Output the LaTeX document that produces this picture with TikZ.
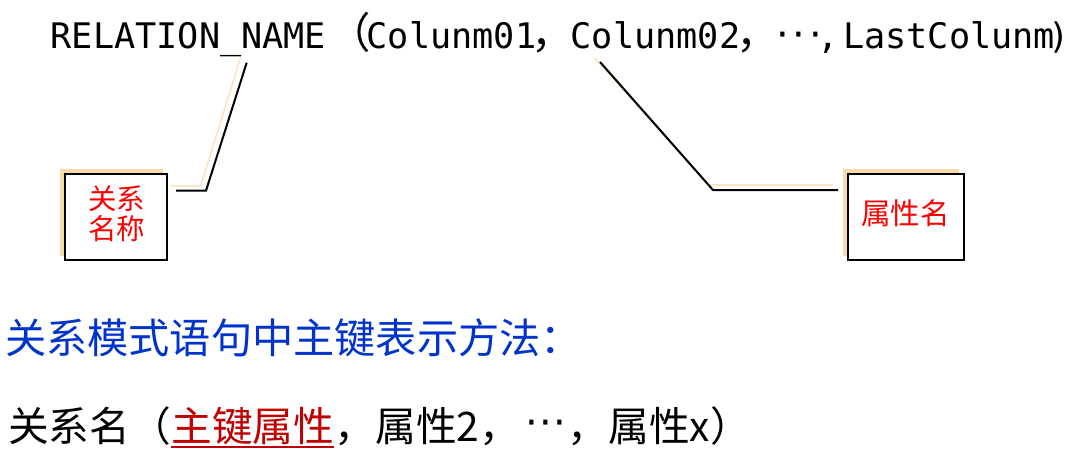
\documentclass[tikz,border=0pt]{standalone}
\usepackage{fontspec}
\newfontfamily\cjk{Noto Sans CJK SC}
\newfontfamily\mono{DejaVu Sans Mono}
\newfontfamily\dejavu{DejaVu Sans}
\definecolor{shadowtan}{HTML}{F9DBA9}
\definecolor{shadowlight}{HTML}{FBE3C4}
\definecolor{titleblue}{HTML}{0033CC}
\definecolor{keyred}{HTML}{C00000}
\begin{document}
\begin{tikzpicture}[x=1pt,y=-1pt,
  toptext/.style={font=\mono\fontsize{35.2}{40}\selectfont, inner sep=0, anchor=base west},
  toppunct/.style={font=\cjk\fontsize{42.4}{48}\selectfont, inner sep=0, anchor=base west},
  topdots/.style={font=\dejavu\fontsize{40}{48}\selectfont, inner sep=0, anchor=base west},
  labelbox/.style={draw=black, line width=1.3, fill=white, inner sep=0},
  shadowbox/.style={fill=shadowtan, inner sep=0},
  conn/.style={draw=black, line width=2},
  connshadow/.style={draw=shadowlight, line width=1.6},
  boxtext/.style={font=\cjk\fontsize{28.5}{29.5}\selectfont, text=red, align=center, inner sep=0},
  bigtext/.style={font=\cjk\fontsize{40.7}{48}\selectfont, inner sep=0, anchor=base west}
]
\useasboundingbox (0,0) rectangle (1069,474);
% top line
\node[toptext] (rn) at (50.5,48.5) {RELATION\_NAME};
\node[toppunct] (lp) at (328.5,48.5) {（};
\node[toptext] (c1) at (366.5,48.5) {Colunm01};
\node[toppunct] (cm1) at (531,48.5) {，};
\node[toptext] (c2) at (570.5,48.5) {Colunm02};
\node[toppunct] (cm2) at (736,48.5) {，};
\node[topdots] (el) at (776,48.5) {·\kern3.8pt·\kern3.8pt·};
\node[toptext] (cm3) at (817,48.5) {,};
\node[toptext] (lc) at (843,48.5) {LastColunm};
\node[toptext] (rp) at (1048,48.5) {)};
% boxes
\node[shadowbox, minimum width=102.7, minimum height=87] (s1) at (111.35,212.5) {};
\node[labelbox, minimum width=102, minimum height=86] (b1) at (116,217) {};
\node[boxtext] (t1) at (116.5,213.5) {关系\\名称};
\node[shadowbox, minimum width=116.6, minimum height=86.7] (s2) at (901,212.35) {};
\node[labelbox, minimum width=116, minimum height=86] (b2) at (906,217) {};
\node[boxtext, font=\cjk\fontsize{29.5}{30}\selectfont] (t2) at (905.5,213) {属性名};
% connectors
\coordinate (p1s) at (240.7,57.3);
\coordinate (q1s) at (200.7,185.7);
\coordinate (r1s) at (170.7,185.7);
\coordinate (p1) at (246.7,62.7);
\coordinate (q1) at (206,190.7);
\coordinate (r1) at (176,190.7);
\draw[connshadow] (p1s) -- (q1s) -- (r1s);
\draw[conn] (p1) -- (q1) -- (r1);
\coordinate (p2s) at (595,58);
\coordinate (q2s) at (708,185);
\coordinate (r2s) at (833,185);
\coordinate (p2) at (600,62);
\coordinate (q2) at (713,190);
\coordinate (r2) at (838,190);
\draw[connshadow] (p2s) -- (q2s) -- (r2s);
\draw[conn] (p2) -- (q2) -- (r2);
% blue heading
\node[bigtext, text=titleblue, font=\cjk\fontsize{41.2}{48}\selectfont] (bt) at (5,353) {关系模式语句中主键表示方法：};
% bottom line
\node[bigtext] (bl1) at (8,441) {关系名（};
\node[bigtext, text=keyred] (bl2) at (bl1.base east) {主键属性};
\node[bigtext] (bl3) at (bl2.base east) {，属性2，\kern6pt{\dejavu\fontsize{40}{48}\selectfont\raisebox{5pt}{·\kern0.8pt·\kern0.8pt·}}\kern2pt，属性x）};
\draw[keyred, line width=2] ([yshift=-5.5pt]bl2.base west) -- ([yshift=-5.5pt]bl2.base east);
\end{tikzpicture}
\end{document}
